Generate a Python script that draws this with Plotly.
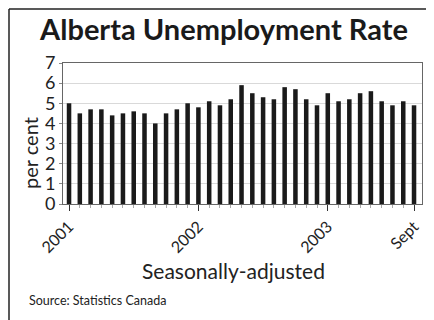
import plotly.graph_objects as go

months = list(range(33))
rate_2001 = [5.0, 4.5, 4.7, 4.7, 4.4, 4.5, 4.6, 4.5, 4.0, 4.5, 4.7, 5.0]
rate_2002 = [4.8, 5.1, 4.9, 5.2, 5.9, 5.5, 5.3, 5.2, 5.8, 5.7, 5.2, 4.9]
rate_2003 = [5.5, 5.1, 5.2, 5.5, 5.6, 5.1, 4.9, 5.1, 4.9]
rates = rate_2001 + rate_2002 + rate_2003
tick_positions = [0, 12, 24, 32]
tick_labels = ["2001", "2002", "2003", "Sept"]

FONT = "Lato, 'Open Sans', sans-serif"
OFF = 8  # page body offset
PL, PT, PR, PB = 63 - OFF, 63 - OFF, 422 - OFF, 204 - OFF
PH = float(PB - PT)
PW = float(PR - PL)


def px(x):
    return (x - OFF - PL) / PW


def py(y):
    return (PB - (y - OFF)) / PH


fig = go.Figure(go.Bar(x=months, y=rates, marker=dict(color="#1a1a1a", line=dict(width=0)), width=0.42))

fig.update_layout(
    width=434, height=320,
    margin=dict(l=PL, r=434 - PR, t=PT, b=320 - PB, autoexpand=False),
    paper_bgcolor="white", plot_bgcolor="white",
    font=dict(family=FONT, color="#222"),
    showlegend=False,
    title=dict(text="<b>Alberta Unemployment Rate</b>", x=(224 - OFF) / 434, xanchor="center",
               y=1 - (30 - OFF) / 320, yanchor="middle", font=dict(size=29, color="#1a1a1a")),
    annotations=[
        dict(text="Seasonally-adjusted", xref="paper", yref="paper", x=px(233),
             y=py(270), xanchor="center", yanchor="middle", showarrow=False,
             font=dict(size=21, color="#222")),
        dict(text="Source: Statistics Canada", xref="paper", x=px(27), xanchor="left",
             yref="paper", y=py(300), yanchor="middle", showarrow=False,
             font=dict(size=12.5, color="#222")),
        dict(text="per cent", xref="paper", yref="paper", x=px(30), y=py(153),
             xanchor="center", yanchor="middle", textangle=-90, showarrow=False,
             font=dict(size=20, color="#222")),
    ],
    shapes=[
        dict(type="line", xref="paper", yref="paper", x0=px(9), x1=1.2,
             y0=py(9), y1=py(9), line=dict(color="#222", width=1.5)),
        dict(type="line", xref="paper", yref="paper", x0=px(9), x1=px(9),
             y0=py(9), y1=py(340), line=dict(color="#222", width=1.5)),
    ],
)

fig.update_xaxes(
    range=[-0.56, 32.74], tickmode="array", tickvals=tick_positions, ticktext=tick_labels,
    tickangle=-45, ticks="outside", ticklen=6, tickcolor="#333",
    tickfont=dict(size=16, color="#222"), automargin=False,
    minor=dict(dtick=1, tick0=0, ticks="outside", ticklen=3, tickcolor="#aaa"),
    showline=True, linecolor="#666", linewidth=1, mirror=True, showgrid=False, zeroline=False,
)
fig.update_yaxes(
    range=[0, 7], dtick=1, ticks="outside", ticklen=3, tickcolor="#888",
    tickfont=dict(size=18, color="#222"), automargin=False,
    showline=True, linecolor="#666", linewidth=1, mirror=True,
    showgrid=True, gridcolor="#d9d9d9", zeroline=False,
)

fig.write_html("out.html")
